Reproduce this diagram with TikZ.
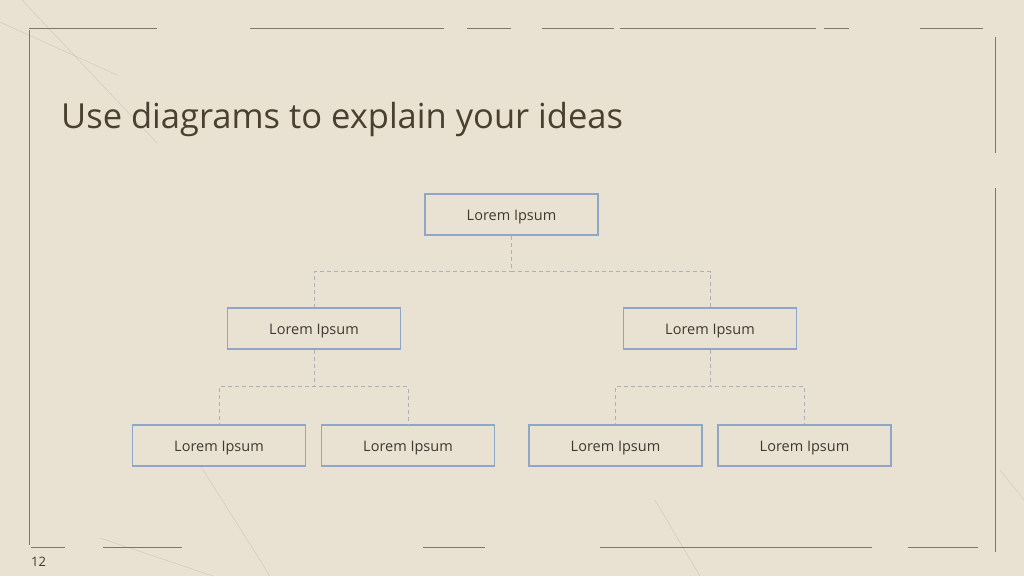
\documentclass[tikz,border=0pt]{standalone}
\usepackage{fontspec}
\setmainfont{Open Sans}
\usetikzlibrary{positioning}
\definecolor{paper}{RGB}{233,226,210}
\definecolor{boxline}{RGB}{143,166,201}
\definecolor{titleink}{RGB}{74,64,46}
\definecolor{ink}{RGB}{62,57,50}
\definecolor{frameink}{RGB}{128,118,104}
\definecolor{dashink}{RGB}{176,174,184}
\tikzstyle{block} = [rectangle, draw=boxline, line width=1.5pt, fill=paper,
    minimum width=173pt, minimum height=41pt, inner sep=0pt,
    text height=11pt, text depth=0pt,
    text=ink, font=\fontsize{14.5}{16}\selectfont]
\tikzstyle{link} = [draw=dashink, line width=0.9pt, dash pattern=on 4pt off 3pt]
\tikzstyle{frame} = [draw=frameink, line width=0.8pt]
\tikzstyle{scratch} = [draw=frameink, line width=0.4pt, opacity=0.25]

\begin{document}
\begin{tikzpicture}[node distance = 114pt, x=1pt, y=1pt]
    % Background and frame
    \fill [paper] (0,0) rectangle (1024,-576);
    \useasboundingbox (0,0) rectangle (1024,-576);
    \path [scratch] (22,0) -- (157,-143);
    \path [scratch] (0,-22) -- (117,-75);
    \path [scratch] (100,-538) -- (213,-576);
    \path [scratch] (200,-465) -- (270,-576);
    \path [scratch] (655,-500) -- (700,-576);
    \path [scratch] (1000,-470) -- (1024,-500);
    \path [frame] (29,-30) -- (29,-545);
    \path [frame] (29,-28) -- (157,-28);
    \path [frame] (250,-28) -- (444,-28);
    \path [frame] (467,-28) -- (511,-28);
    \path [frame] (542,-28) -- (614,-28);
    \path [frame] (620,-28) -- (816,-28);
    \path [frame] (824,-28) -- (849,-28);
    \path [frame] (920,-28) -- (983,-28);
    \path [frame] (995,-37) -- (995,-153);
    \path [frame] (995,-188) -- (995,-552);
    \path [frame] (31,-547) -- (65,-547);
    \path [frame] (103,-547) -- (182,-547);
    \path [frame] (423,-547) -- (485,-547);
    \path [frame] (600,-547) -- (872,-547);
    \path [frame] (908,-547) -- (978,-547);

    % Title and page number
    \node [anchor=base west, text=titleink, inner sep=0pt,
        font=\fontsize{34.5}{37}\selectfont] (title) at (61,-128)
        {Use diagrams to explain your ideas};
    \node [anchor=base west, text=ink, inner sep=0pt,
        font=\fontsize{13}{15}\selectfont] (pagenum) at (31,-566) {12};

    % Place nodes
    \node [block] (top) at (511.5,-214.5) {Lorem Ipsum};
    \node [block, below of=top, xshift=-197.5pt] (midl) {Lorem Ipsum};
    \node [block, below of=top, xshift=198.5pt] (midr) {Lorem Ipsum};
    \node [block, below of=midl, node distance=117pt, xshift=-95pt] (leafa) {Lorem Ipsum};
    \node [block, below of=midl, node distance=117pt, xshift=94pt] (leafb) {Lorem Ipsum};
    \node [block, below of=midr, node distance=117pt, xshift=-94.5pt] (leafc) {Lorem Ipsum};
    \node [block, below of=midr, node distance=117pt, xshift=94.5pt] (leafd) {Lorem Ipsum};

    % Draw edges
    \path [link] (top.south) -- ++(0,-36) -| (midl.north);
    \path [link] (top.south) -- ++(0,-36) -| (midr.north);
    \path [link] (midl.south) -- ++(0,-37) -| (leafa.north);
    \path [link] (midl.south) -- ++(0,-37) -| (leafb.north);
    \path [link] (midr.south) -- ++(0,-37) -| (leafc.north);
    \path [link] (midr.south) -- ++(0,-37) -| (leafd.north);
\end{tikzpicture}
\end{document}
